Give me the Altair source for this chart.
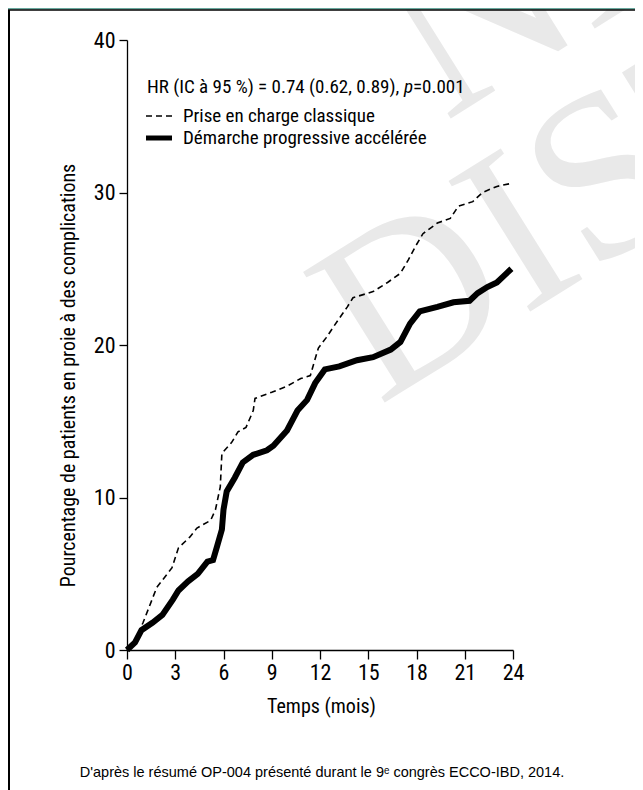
import altair as alt
import pandas as pd

# ---- data ----
months_classique = [0, 0.5, 1.0, 1.85, 2.8, 3.2, 3.9, 4.35, 5.2, 5.5, 5.8, 5.9, 6.5, 6.9, 7.4,
                    7.85, 7.96, 9.0, 9.95, 10.8, 11.4, 11.7, 11.9, 12.4, 13.1, 13.7, 14.05,
                    15.3, 16.2, 17.0, 17.5, 17.9, 18.4, 19.3, 20.1, 20.6, 21.5, 22.1, 23.0, 23.9]
pct_classique = [0, 0.6, 1.8, 4.1, 5.4, 6.7, 7.4, 8.0, 8.5, 9.2, 10.7, 12.9, 13.6, 14.3, 14.6,
                 15.7, 16.5, 16.9, 17.3, 17.8, 18.0, 19.1, 19.8, 20.5, 21.6, 22.5, 23.1,
                 23.5, 24.1, 24.7, 25.6, 26.4, 27.3, 28.0, 28.3, 29.1, 29.4, 30.0, 30.4, 30.6]

months_acceleree = [0, 0.5, 0.9, 1.6, 2.2, 2.85, 3.2, 3.8, 4.4, 5.0, 5.35, 5.6, 5.9, 6.0, 6.2,
                    6.7, 7.2, 7.85, 8.7, 9.1, 9.95, 10.6, 11.2, 11.7, 12.3, 13.2, 14.3, 15.3,
                    16.4, 17.0, 17.6, 18.2, 19.3, 20.3, 21.3, 21.8, 22.4, 23.0, 23.5, 23.9]
pct_acceleree = [0, 0.5, 1.3, 1.8, 2.3, 3.3, 3.9, 4.5, 5.0, 5.8, 5.9, 6.8, 7.9, 9.2, 10.4,
                 11.3, 12.3, 12.8, 13.1, 13.4, 14.4, 15.7, 16.4, 17.5, 18.4, 18.6, 19.0, 19.2,
                 19.7, 20.2, 21.4, 22.2, 22.5, 22.8, 22.9, 23.4, 23.8, 24.1, 24.6, 25.0]

x_ticks = [0, 3, 6, 9, 12, 15, 18, 21, 24]
y_ticks = [0, 10, 20, 30, 40]
series_labels = ["Prise en charge classique", "Démarche progressive accélérée"]
x_title = "Temps (mois)"
y_title = "Pourcentage de patients en proie à des complications"
hr_parts = ["HR (IC à 95 %) = 0.74 (0.62, 0.89), ", "p", "=0.001"]
footer = ["D'après le résumé OP-004 présenté durant le 9ᵉ congrès ECCO-IBD, 2014."]
watermark = ["ND", "DIST"]

NARROW = "Liberation Sans Narrow, Arial Narrow, Roboto Condensed, Liberation Sans, sans-serif"
REGULAR = "Liberation Sans, Arial, Helvetica, sans-serif"
SERIF = "Liberation Serif, DejaVu Serif, serif"

df = pd.DataFrame({
    "Temps": months_classique + months_acceleree,
    "Pct": pct_classique + pct_acceleree,
    "Groupe": [series_labels[0]] * len(months_classique) + [series_labels[1]] * len(months_acceleree),
})

one = pd.DataFrame({"k": [0]})

x_enc = alt.X("Temps:Q", scale=alt.Scale(domain=[0, 24], nice=False, zero=False),
              axis=alt.Axis(values=x_ticks, title=x_title, tickSize=9, labelPadding=3,
                            labelFlush=False, labelOverlap=False, titleX=194, titleY=56,
                            titleBaseline="middle", format="d"))
y_enc = alt.Y("Pct:Q", scale=alt.Scale(domain=[0, 40], nice=False),
              axis=alt.Axis(values=y_ticks, title=y_title, tickSize=8, labelPadding=4,
                            labelFlush=False, titleX=-59, titleY=335, titleAngle=270,
                            titleAlign="center", titleBaseline="middle", format="d"))

# watermark
WM = "#e9e9e9"
wm1 = alt.Chart(pd.DataFrame({"w": [watermark[0]]})).mark_text(
    font=SERIF, fontSize=235, color=WM, angle=328, align="left", baseline="alphabetic"
).encode(text="w:N", x=alt.value(318), y=alt.value(82))
wm2 = alt.Chart(pd.DataFrame({"w": [watermark[1]]})).mark_text(
    font=SERIF, fontSize=235, color=WM, angle=328, align="left", baseline="alphabetic"
).encode(text="w:N", x=alt.value(252), y=alt.value(366))

# frame
band = alt.Chart(one).mark_rect(color="#68a99e").encode(
    x=alt.value(-127), x2=alt.value(520), y=alt.value(-40), y2=alt.value(-30.5))
topline = alt.Chart(one).mark_rule(color="black", strokeWidth=1.5).encode(
    x=alt.value(-127), x2=alt.value(520), y=alt.value(-30))
leftline = alt.Chart(one).mark_rule(color="black", strokeWidth=2).encode(
    x=alt.value(-118), y=alt.value(-30), y2=alt.value(760))

line_c = alt.Chart(df).transform_filter(alt.datum.Groupe == series_labels[0]).mark_line(
    color="black", strokeWidth=1.6, strokeDash=[6, 4]
).encode(x=x_enc, y=y_enc)
line_a = alt.Chart(df).transform_filter(alt.datum.Groupe == series_labels[1]).mark_line(
    color="black", strokeWidth=6, strokeCap="butt"
).encode(x=x_enc, y=y_enc)

# legend
LFS = 19
hr1 = alt.Chart(pd.DataFrame({"t": [hr_parts[0]]})).mark_text(
    font=NARROW, fontSize=LFS, align="left", baseline="middle", color="black"
).encode(text="t:N", x=alt.value(20), y=alt.value(47))
hr2 = alt.Chart(pd.DataFrame({"t": [hr_parts[1]]})).mark_text(
    font=NARROW, fontSize=LFS, fontStyle="italic", align="left", baseline="middle", color="black"
).encode(text="t:N", x=alt.value(277), y=alt.value(47))
hr3 = alt.Chart(pd.DataFrame({"t": [hr_parts[2]]})).mark_text(
    font=NARROW, fontSize=LFS, align="left", baseline="middle", color="black"
).encode(text="t:N", x=alt.value(286), y=alt.value(47))

leg_dash = alt.Chart(one).mark_rule(color="black", strokeWidth=1.6, strokeDash=[6, 4]).encode(
    x=alt.value(19), x2=alt.value(45), y=alt.value(76))
leg_solid = alt.Chart(one).mark_rule(color="black", strokeWidth=5).encode(
    x=alt.value(19), x2=alt.value(45), y=alt.value(98))
leg_t1 = alt.Chart(pd.DataFrame({"t": [series_labels[0]]})).mark_text(
    font=NARROW, fontSize=LFS, align="left", baseline="middle", color="black"
).encode(text="t:N", x=alt.value(56), y=alt.value(76))
leg_t2 = alt.Chart(pd.DataFrame({"t": [series_labels[1]]})).mark_text(
    font=NARROW, fontSize=LFS, align="left", baseline="middle", color="black"
).encode(text="t:N", x=alt.value(56), y=alt.value(98))

foot = alt.Chart(pd.DataFrame({"t": footer})).mark_text(
    font=REGULAR, fontSize=14.5, align="center", baseline="middle", color="black"
).encode(text="t:N", x=alt.value(195), y=alt.value(733))

chart = alt.layer(
    wm1, wm2, band, topline, leftline, line_c, line_a,
    hr1, hr2, hr3, leg_dash, leg_solid, leg_t1, leg_t2, foot
).properties(
    width=386, height=610,
    autosize=alt.AutoSizeParams(type="none"),
    padding={"left": 119, "top": 32, "right": 122, "bottom": 140},
    background="white",
).configure_view(stroke=None).configure_axis(
    domainColor="black", tickColor="black", labelColor="black", titleColor="black",
    grid=False, labelFont=NARROW, titleFont=NARROW, labelFontSize=22, titleFontSize=20,
    titleFontWeight="normal", domainWidth=1.3, tickWidth=1.3
)

chart.save("out.html", embed_options={"renderer": "svg", "actions": False})
